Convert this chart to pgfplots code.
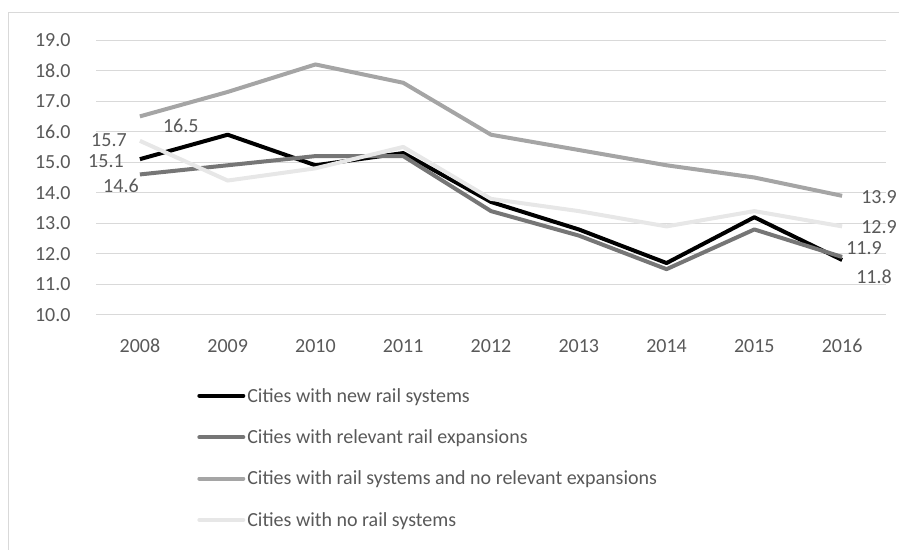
\documentclass[border=0pt]{standalone}
\usepackage{pgfplots}
\pgfplotsset{compat=1.18}
\usepackage{fontspec}
\setmainfont{Carlito}
\definecolor{txt}{HTML}{595959}
\definecolor{gridc}{HTML}{D9D9D9}
\definecolor{sA}{HTML}{000000}
\definecolor{sB}{HTML}{767676}
\definecolor{sC}{HTML}{A5A5A5}
\definecolor{sD}{HTML}{E7E7E7}
\begin{document}
\begin{tikzpicture}[x=1bp,y=1bp]
\useasboundingbox (0,0) rectangle (899,550);
\draw[gridc, line width=0.8bp] (8,0) -- (8,538) -- (899,538);
\begin{axis}[
  at={(96bp,235bp)}, anchor=south west,
  scale only axis, width=790bp, height=275bp,
  xmin=-0.5, xmax=8.5, ymin=10, ymax=19,
  axis line style={draw=none},
  ymajorgrids, major grid style={gridc, line width=1bp},
  ytick={10,11,...,19},
  xtick={0,...,8},
  xticklabels={2008,2009,2010,2011,2012,2013,2014,2015,2016},
  yticklabel style={xshift=-22bp, /pgf/number format/.cd, fixed, fixed zerofill, precision=1, assume math mode=true},
  xticklabel style={yshift=-20bp, text height=14bp, text depth=0bp, anchor=north},
  ticklabel style={font=\fontsize{20bp}{24bp}\selectfont, text=txt},
  major tick length=0pt,
  tick style={draw=none},
  clip=false,
  legend style={at={(0.128,-0.258)}, anchor=north west, draw=none, fill=none,
    inner sep=0pt, row sep=22bp, font=\fontsize{20bp}{24bp}\selectfont, text=txt,
    cells={anchor=west}},
  legend image code/.code={\draw[#1, line cap=round] (0bp,0bp) -- (44bp,0bp);},
  every axis plot/.append style={line width=4bp, line join=round},
]
\addplot[sA] coordinates {(0,15.1)(1,15.9)(2,14.9)(3,15.3)(4,13.7)(5,12.8)(6,11.7)(7,13.2)(8,11.8)};
\addlegendentry{Cities with new rail systems}
\addplot[sB] coordinates {(0,14.6)(1,14.9)(2,15.2)(3,15.2)(4,13.4)(5,12.6)(6,11.5)(7,12.8)(8,11.9)};
\addlegendentry{Cities with relevant rail expansions}
\addplot[sC] coordinates {(0,16.5)(1,17.3)(2,18.2)(3,17.6)(4,15.9)(5,15.4)(6,14.9)(7,14.5)(8,13.9)};
\addlegendentry{Cities with rail systems and no relevant expansions}
\addplot[sD] coordinates {(0,15.7)(1,14.4)(2,14.8)(3,15.5)(4,13.8)(5,13.4)(6,12.9)(7,13.4)(8,12.9)};
\addlegendentry{Cities with no rail systems}
\begin{scope}[every node/.style={font=\fontsize{20bp}{24bp}\selectfont, text=txt, inner sep=0pt}]
\node[anchor=east] at ([xshift=-16bp,yshift=-2bp]axis cs:0,15.1) {15.1};
\node[anchor=north east] at ([xshift=-1bp,yshift=-4bp]axis cs:0,14.6) {14.6};
\node[anchor=north west] at ([xshift=23bp,yshift=-2bp]axis cs:0,16.5) {16.5};
\node[anchor=east] at ([xshift=-13bp,yshift=1bp]axis cs:0,15.7) {15.7};
\node[anchor=west] at ([xshift=19bp,yshift=-1bp]axis cs:8,13.9) {13.9};
\node[anchor=west] at ([xshift=19bp,yshift=-1bp]axis cs:8,12.9) {12.9};
\node[anchor=west] at ([xshift=4bp,yshift=9bp]axis cs:8,11.9) {11.9};
\node[anchor=west] at ([xshift=14bp,yshift=-17bp]axis cs:8,11.8) {11.8};
\end{scope}
\end{axis}
\end{tikzpicture}
\end{document}
